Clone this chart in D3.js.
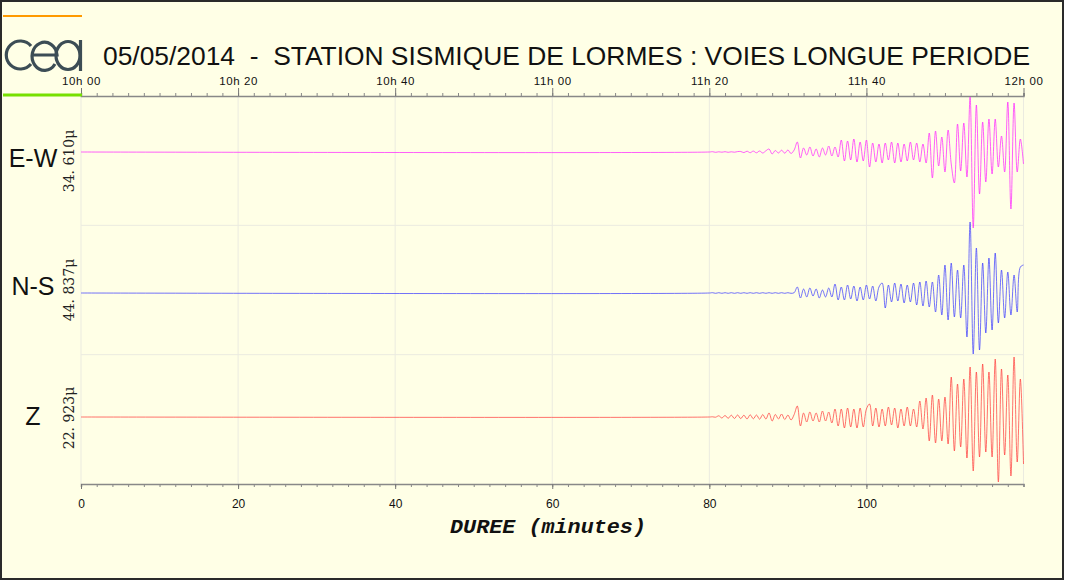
<!DOCTYPE html>
<html><head><meta charset="utf-8">
<script src="https://cdn.jsdelivr.net/npm/d3@7"></script>
<style>
html,body{margin:0;padding:0;background:#fff;}
svg{display:block;}
</style></head>
<body>
<script>
// ---------- data ----------
const titleText = "05/05/2014  -  STATION SISMIQUE DE LORMES : VOIES LONGUE PERIODE";
const channels = ["E-W", "N-S", "Z"];
const scaleLabels = ["34. 610\u03bc", "44. 837\u03bc", "22. 923\u03bc"];
const durationTicks = [0, 20, 40, 60, 80, 100];
const clockTicks = ["10h 00", "10h 20", "10h 40", "11h 00", "11h 20", "11h 40", "12h 00"];
const traceStart = 80;      // minutes, first sample of the listed values
const sampleStep = 0.4;     // minutes between samples
// amplitudes (relative units) from minute 80 to 120
const ewValues = [0,0.3,-0.3,0.2,-0.2,0.3,-0.3,0.2,-0.2,0.4,
  0.5,-0.6,0.8,-0.7,0.9,-0.8,1,-1,1.2,3,
  -2,1.5,-1,1.8,-1.2,2,-1.5,2,10,-6,
  4,-3,5,-4,3,-5,4,-3,6,-4,
  5,-5,12,-9,11,-8,13,-10,10,-9,
  12,-15,9,-10,8,-11,9,-8,10,-11,
  9,-10,8,-9,10,-8,9,-10,8,-11,
  19,-26,21,-14,15,-20,22,-12,-31,28,
  -19,29,-25,55,-76,47,-42,30,-30,33,
  -22,33,-15,16,-20,50,-57,49,-20,13,-12];
const nsValues = [0,0.3,-0.3,0.3,-0.3,0.3,-0.3,0.3,-0.3,0.3,
  -0.3,0.3,-0.3,0.3,-0.3,0.3,-0.3,0.3,-0.3,0.3,
  -0.3,0.3,-0.3,0.3,-0.3,0.3,-0.3,0.3,6,-5,
  4,-4,5,-3,4,-5,3,-4,5,-4,
  9,-7,6,-7,8,-6,7,-8,6,-7,
  8,-6,7,-8,6,10,-15,8,-9,10,
  -8,9,-10,8,-9,10,-12,11,-13,12,
  -14,11,-19,18,-22,28,-27,30,-24,23,
  -25,28,-44,71,-61,45,-57,30,-40,35,
  -37,40,-30,23,-25,21,-22,18,-19,26,28];
const zValues = [0,0.2,-0.2,1.2,-1,1.5,-1.3,1.8,-1.5,2,
  -1.6,1.8,-2,2.2,-1.8,2,-2.2,2.4,-2,4,
  -4,2.5,-2,3,-2.5,2,-3,2.5,11,-9,
  4,-5,5,-4,4,-5,6,-4,5,-6,
  8,-9,8,-11,9,-10,8,-11,9,-10,
  8,13,-9,9,-10,8,-9,10,-8,9,
  -11,8,-9,10,-9,8,-10,16,-12,19,
  -24,22,-26,18,-24,20,-27,40,-34,33,
  -30,38,-41,50,-54,45,-40,53,-35,45,
  -40,58,-65,48,-38,42,-59,60,-45,38,-47];
const traceValues = [ewValues, nsValues, zValues];
const traceColors = ["#ff22ff", "#3a3aff", "#ff3a3a"];

// ---------- layout ----------
const W = 1065, H = 581;
const plotL = 81, plotR = 1023.5, plotT = 96, plotB = 484;
const baselines = [152, 293, 417];
const nameBaselines = [167, 295, 425];
const labelCenters = [161, 290, 418];

const svg = d3.select("body").append("svg").attr("width", W).attr("height", H);
svg.append("rect").attr("x", 1).attr("y", 1).attr("width", 1062).attr("height", 578)
  .attr("fill", "#ffffe6").attr("stroke", "#2a2a2a").attr("stroke-width", 2);

const x = d3.scaleLinear().domain([0, 120]).range([plotL, plotR]);
const t0 = new Date(2014, 4, 5, 10, 0), t1 = new Date(2014, 4, 5, 12, 0);
const xt = d3.scaleTime().domain([t0, t1]).range([plotL, plotR]);
const band = d3.scaleBand().domain(channels).range([plotT, plotB]);

// grid
const grid = svg.append("g");
grid.selectAll("line.v").data(d3.range(0, 121, 20)).join("line")
  .attr("x1", d => x(d)).attr("x2", d => x(d)).attr("y1", plotT).attr("y2", plotB)
  .attr("stroke", "#ebebe0").attr("stroke-width", 1);
grid.selectAll("line.h").data(channels.slice(1)).join("line")
  .attr("x1", plotL).attr("x2", plotR).attr("y1", d => band(d)).attr("y2", d => band(d))
  .attr("stroke", "#ebebe0").attr("stroke-width", 1);

// top clock axis
const minorTimes = d3.timeMinute.every(2).range(t0, new Date(+t1 + 1));
svg.append("g").attr("transform", `translate(0,${plotT})`)
  .call(d3.axisTop(xt).tickValues(minorTimes).tickSize(3).tickFormat(""))
  .call(g => g.select(".domain").attr("stroke", "#888").attr("stroke-width", 1.5))
  .call(g => g.selectAll(".tick line").attr("stroke", "#888"));
const majorTimes = d3.timeMinute.every(20).range(t0, new Date(+t1 + 1));
svg.append("g").attr("transform", `translate(0,${plotT})`)
  .call(d3.axisTop(xt).tickValues(majorTimes).tickSize(8).tickPadding(3)
    .tickFormat((d, i) => clockTicks[i]))
  .call(g => g.select(".domain").remove())
  .call(g => g.selectAll(".tick line").attr("stroke", "#777"))
  .call(g => g.selectAll("text").attr("font-family", "Liberation Sans, Arial, sans-serif")
     .attr("font-size", 11.5).attr("fill", "#111").attr("letter-spacing", 0.6));

// bottom duration axis
svg.append("g").attr("transform", `translate(0,${plotB})`)
  .call(d3.axisBottom(x).tickValues(d3.range(0, 121, 2)).tickSize(3).tickFormat(""))
  .call(g => g.select(".domain").attr("stroke", "#888").attr("stroke-width", 1.5))
  .call(g => g.selectAll(".tick line").attr("stroke", "#888"));
svg.append("g").attr("transform", `translate(0,${plotB})`)
  .call(d3.axisBottom(x).tickValues(durationTicks).tickSize(5).tickPadding(10).tickFormat(d3.format("d")))
  .call(g => g.select(".domain").remove())
  .call(g => g.selectAll(".tick line").attr("stroke", "#777"))
  .call(g => g.selectAll("text").attr("font-family", "Liberation Sans, Arial, sans-serif")
     .attr("font-size", 12).attr("fill", "#111"));

svg.append("text").attr("x", 548).attr("y", 533).attr("text-anchor", "middle")
  .attr("font-family", "Liberation Mono, Courier New, monospace").attr("font-weight", "bold")
  .attr("font-style", "italic").attr("font-size", 20).attr("fill", "#111")
  .attr("textLength", 196).attr("lengthAdjust", "spacingAndGlyphs")
  .text("DUREE (minutes)");

// traces
channels.forEach((ch, k) => {
  const base = baselines[k];
  const y = d3.scaleLinear().domain([-100, 100]).range([base + 100, base - 100]);
  const pts = [[0, 0]].concat(traceValues[k].map((v, i) => [traceStart + i * sampleStep, v]));
  const line = d3.line().x(d => x(d[0])).y(d => y(d[1])).curve(d3.curveCatmullRom.alpha(0.5));
  svg.append("path").datum(pts).attr("d", line).attr("fill", "none")
    .attr("stroke", traceColors[k]).attr("stroke-width", 0.9).attr("stroke-opacity", 0.8);
  svg.append("text").attr("x", 33).attr("y", nameBaselines[k]).attr("text-anchor", "middle")
    .attr("font-family", "Liberation Sans, Arial, sans-serif").attr("font-size", 25).attr("fill", "#111")
    .text(ch);
  svg.append("text").attr("transform", `translate(74,${labelCenters[k]}) rotate(-90)`)
    .attr("text-anchor", "middle").attr("font-family", "DejaVu Serif, serif")
    .attr("font-size", 14).attr("fill", "#222").text(scaleLabels[k]);
});

// title
svg.append("text").attr("x", 103).attr("y", 65).attr("font-family", "Liberation Sans, Arial, sans-serif")
  .attr("font-size", 25).attr("fill", "#111").style("white-space", "pre")
  .attr("textLength", 927).attr("lengthAdjust", "spacingAndGlyphs").text(titleText);

// decorative lines and logo
svg.append("line").attr("x1", 3).attr("x2", 82).attr("y1", 16).attr("y2", 16)
  .attr("stroke", "#ff9a00").attr("stroke-width", 2);
svg.append("line").attr("x1", 3).attr("x2", 82).attr("y1", 95).attr("y2", 95)
  .attr("stroke", "#77e000").attr("stroke-width", 3);
const logo = svg.append("g").attr("fill", "none").attr("stroke", "#3c4d55").attr("stroke-width", 3.2);
logo.append("path").attr("d", "M31,46 A14,14 0 1 0 31,64");
logo.append("path").attr("d", "M32,55 L57,55 A12.5,14 0 1 0 55,64");
logo.append("ellipse").attr("cx", 68).attr("cy", 55.5).attr("rx", 12).attr("ry", 14);
logo.append("line").attr("x1", 80.5).attr("x2", 80.5).attr("y1", 40).attr("y2", 71);
</script>
</body></html>
